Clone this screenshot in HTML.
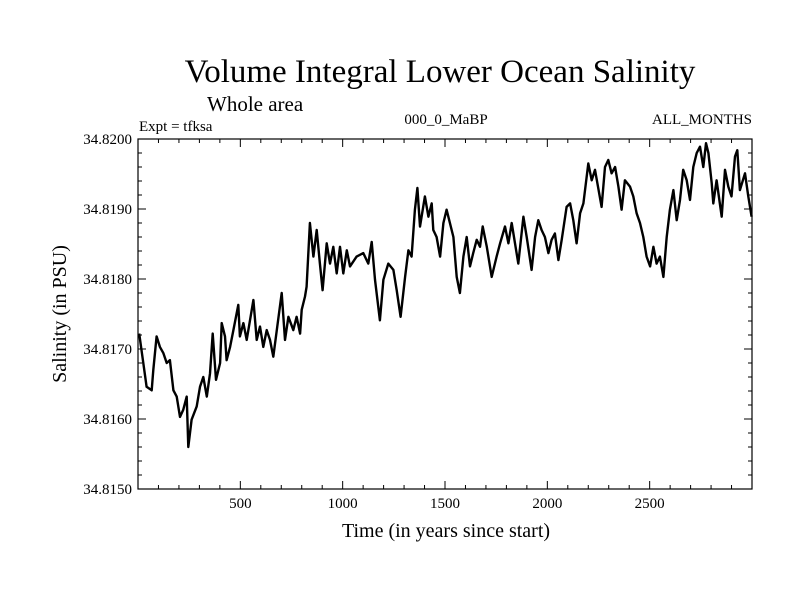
<!DOCTYPE html>
<html><head><meta charset="utf-8"><style>
body{margin:0;background:#fff}
svg{display:block;font-family:"Liberation Serif",serif}
</style></head><body>
<svg id="c" width="800" height="600" viewBox="0 0 800 600">
<text x="440" y="82" font-size="33" text-anchor="middle">Volume Integral Lower Ocean Salinity</text>
<text x="207" y="111" font-size="21">Whole area</text>
<text x="139" y="131" font-size="15">Expt = tfksa</text>
<text x="446" y="124" font-size="15" text-anchor="middle">000_0_MaBP</text>
<text x="752" y="124" font-size="15" text-anchor="end">ALL_MONTHS</text>
<text x="446" y="537" font-size="20" text-anchor="middle">Time (in years since start)</text>
<text transform="translate(66,314) rotate(-90)" font-size="20" text-anchor="middle">Salinity (in PSU)</text>
<g id="ax"></g>
<path id="ln" fill="none" stroke="#000" stroke-width="2.4" stroke-linejoin="round"/>
<rect x="138" y="139" width="614" height="350" fill="none" stroke="#000" stroke-width="1.2"/>
</svg>
<script>
const years=[6,26,42,67,75,91,107,124,140,156,173,189,205,221,238,246,262,287,303,319,336,352,365,381,401,409,425,433,450,466,490,498,515,531,547,564,580,596,612,629,645,661,678,702,718,735,759,775,792,800,816,824,840,857,873,889,902,922,938,954,971,987,1003,1020,1036,1068,1101,1125,1142,1158,1182,1199,1223,1248,1264,1283,1305,1321,1337,1353,1365,1378,1402,1419,1435,1443,1459,1476,1492,1508,1541,1557,1573,1590,1606,1622,1638,1655,1671,1684,1704,1728,1752,1769,1793,1810,1826,1842,1858,1883,1899,1923,1940,1956,1972,1988,2005,2021,2037,2054,2070,2094,2111,2127,2143,2160,2176,2200,2217,2233,2265,2282,2298,2314,2331,2347,2363,2379,2404,2420,2436,2453,2469,2485,2502,2518,2534,2550,2567,2583,2599,2616,2632,2648,2664,2681,2697,2713,2730,2746,2762,2775,2787,2803,2811,2827,2852,2868,2884,2900,2917,2928,2941,2966,2982,2998];
const salinity=[34.81722,34.81680,34.81646,34.81641,34.81670,34.81718,34.81703,34.81694,34.81680,34.81684,34.81641,34.81632,34.81603,34.81613,34.81632,34.81560,34.81599,34.81618,34.81646,34.81660,34.81632,34.81665,34.81722,34.81656,34.81680,34.81737,34.81718,34.81684,34.81703,34.81727,34.81763,34.81718,34.81737,34.81713,34.81741,34.81770,34.81713,34.81732,34.81703,34.81727,34.81713,34.81689,34.81727,34.81780,34.81713,34.81746,34.81727,34.81746,34.81722,34.81756,34.81775,34.81789,34.81880,34.81832,34.81870,34.81822,34.81784,34.81851,34.81822,34.81846,34.81808,34.81846,34.81808,34.81841,34.81818,34.81832,34.81837,34.81822,34.81853,34.81799,34.81741,34.81799,34.81822,34.81813,34.81784,34.81746,34.81803,34.81841,34.81832,34.81899,34.81930,34.81875,34.81918,34.81889,34.81908,34.81870,34.81860,34.81832,34.81880,34.81899,34.81860,34.81803,34.81780,34.81832,34.81860,34.81818,34.81837,34.81856,34.81846,34.81875,34.81846,34.81803,34.81832,34.81851,34.81875,34.81851,34.81880,34.81851,34.81822,34.81889,34.81860,34.81813,34.81860,34.81884,34.81870,34.81860,34.81837,34.81856,34.81865,34.81827,34.81856,34.81903,34.81908,34.81884,34.81851,34.81894,34.81908,34.81965,34.81941,34.81956,34.81903,34.81960,34.81970,34.81951,34.81960,34.81932,34.81899,34.81941,34.81932,34.81918,34.81894,34.81880,34.81860,34.81832,34.81818,34.81846,34.81822,34.81832,34.81803,34.81860,34.81899,34.81927,34.81884,34.81913,34.81956,34.81941,34.81913,34.81960,34.81980,34.81989,34.81960,34.81994,34.81980,34.81937,34.81908,34.81941,34.81889,34.81956,34.81932,34.81918,34.81975,34.81984,34.81927,34.81951,34.81918,34.81889];
const xTickLabels=["500","1000","1500","2000","2500"];
const yTickLabels=["34.8150","34.8160","34.8170","34.8180","34.8190","34.8200"];
const X0=138,X1=752,Y0=489,Y1=139;
const xMin=0,xMax=3000,yMin=34.815,yMax=34.820;
const sx=v=>X0+(v-xMin)/(xMax-xMin)*(X1-X0);
const sy=v=>Y0-(v-yMin)/(yMax-yMin)*(Y0-Y1);
const NS="http://www.w3.org/2000/svg";
const ax=document.getElementById('ax');
function mk(t,a){const e=document.createElementNS(NS,t);for(const k in a)e.setAttribute(k,a[k]);ax.appendChild(e);return e;}
for(let v=100;v<3000;v+=100){
  const x=sx(v),L=(v%500===0)?8:4;
  const t1=mk('line',{x1:x,x2:x,y1:Y0,y2:Y0-L,stroke:'#000','stroke-width':1});
  
  
  const t2=mk('line',{x1:x,x2:x,y1:Y1,y2:Y1+L,stroke:'#000','stroke-width':1});
  
  
}
xTickLabels.forEach(s=>{
  const t=mk('text',{x:sx(+s),y:Y0+19,'font-size':15,'text-anchor':'middle'});
  t.textContent=s;
  
  
});
for(let i=1;i<25;i++){
  const v=yMin+i*0.0002,y=sy(v),L=(i%5===0)?8:4;
  const t1=mk('line',{x1:X0,x2:X0+L,y1:y,y2:y,stroke:'#000','stroke-width':1});
  
  
  const t2=mk('line',{x1:X1,x2:X1-L,y1:y,y2:y,stroke:'#000','stroke-width':1});
  
  
}
yTickLabels.forEach(s=>{
  const t=mk('text',{x:X0-6,y:sy(+s)+5,'font-size':15,'text-anchor':'end'});
  t.textContent=s;
  
  
});
let d='';
years.forEach((yr,i)=>{d+=(i?'L':'M')+sx(yr).toFixed(1)+','+sy(salinity[i]).toFixed(1);});
document.getElementById('ln').setAttribute('d',d);
</script>
</body></html>
